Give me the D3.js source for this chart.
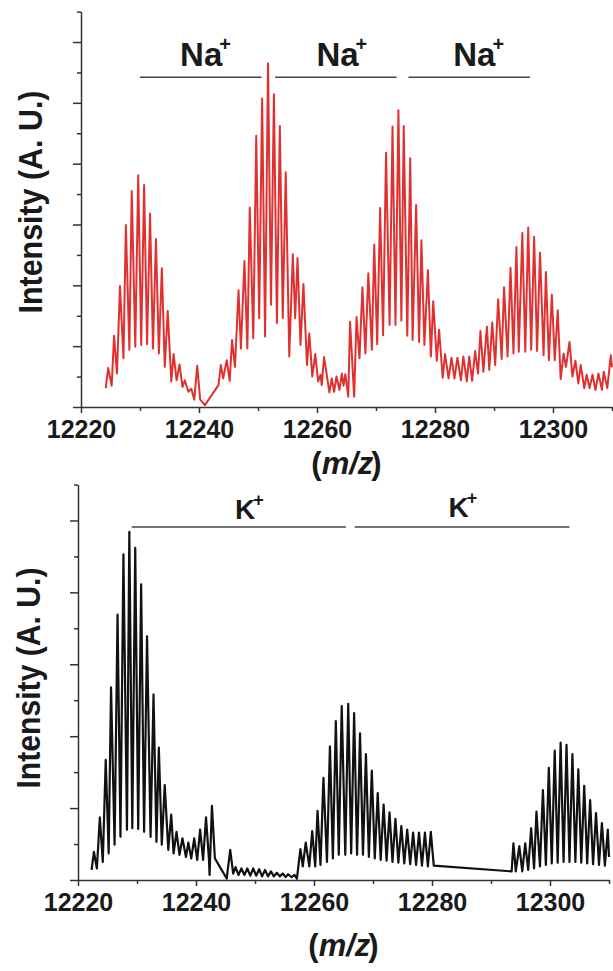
<!DOCTYPE html>
<html>
<head>
<meta charset="utf-8">
<script src="https://cdn.jsdelivr.net/npm/d3@7"></script>
<style>
  html, body { margin: 0; padding: 0; background: #fff; }
  svg { display: block; }
</style>
</head>
<body>
<svg id="chart" width="613" height="971"></svg>
<script>
// m/z axis
const mzDomain = [12220, 12310];

// Na+ adduct series (red): alternating isotopic peak / valley points
const naMz = [
  12224.2, 12224.6, 12225.2, 12225.6, 12226.1, 12226.6, 12227.2, 12227.6, 12228.2, 12228.6,
  12229.2, 12229.7, 12230.2, 12230.7, 12231.2, 12231.7, 12232.2, 12232.7, 12233.2, 12233.7,
  12234.2, 12234.7, 12235.3, 12235.7, 12236.2, 12236.7, 12237.2, 12237.6, 12238.2, 12238.7,
  12239.2, 12239.7, 12240.2, 12241.0, 12243.3, 12243.7, 12244.1, 12244.7, 12245.2, 12245.6,
  12246.1, 12246.7, 12247.1, 12247.7, 12248.2, 12248.6, 12249.2, 12249.7, 12250.2, 12250.7,
  12251.2, 12251.7, 12252.2, 12252.7, 12253.2, 12253.7, 12254.2, 12254.7, 12255.3, 12255.9,
  12256.3, 12256.7, 12257.2, 12257.7, 12258.3, 12258.7, 12259.2, 12259.7, 12260.2, 12260.6,
  12260.8, 12261.2, 12262.1, 12262.5, 12262.9, 12263.3, 12263.8, 12264.2, 12264.5, 12264.8,
  12265.3, 12265.6, 12266.3, 12266.7, 12267.2, 12267.7, 12268.2, 12268.7, 12269.3, 12269.7,
  12270.2, 12270.7, 12271.2, 12271.7, 12272.3, 12272.8, 12273.3, 12273.8, 12274.3, 12274.7,
  12275.3, 12275.8, 12276.2, 12276.8, 12277.3, 12277.7, 12278.2, 12278.8, 12279.3, 12279.7,
  12280.3, 12280.7, 12281.3, 12281.7, 12282.3, 12282.8, 12283.3, 12283.8, 12284.4, 12284.8,
  12285.4, 12285.8, 12286.3, 12286.8, 12287.3, 12287.7, 12288.2, 12288.8, 12289.2, 12289.7,
  12290.2, 12290.7, 12291.3, 12291.7, 12292.3, 12292.8, 12293.3, 12293.8, 12294.2, 12294.8,
  12295.3, 12295.8, 12296.3, 12296.8, 12297.3, 12297.8, 12298.4, 12298.8, 12299.3, 12299.8,
  12300.3, 12300.8, 12301.3, 12301.8, 12302.2, 12302.8, 12303.3, 12303.8, 12304.3, 12304.7,
  12305.3, 12305.7, 12306.2, 12306.7, 12307.2, 12307.7, 12308.3, 12308.6, 12309.2, 12309.8,
  12310.0
];
const naIntensity = [
  0.31, 0.64, 0.35, 1.17, 0.55, 1.99, 0.80, 2.99, 0.94, 3.55,
  0.99, 3.81, 1.02, 3.65, 1.03, 3.18, 0.96, 2.76, 0.88, 2.28,
  0.66, 1.58, 0.42, 0.87, 0.44, 0.70, 0.33, 0.44, 0.25, 0.30,
  0.12, 0.68, 0.12, 0.03, 0.36, 0.69, 0.47, 0.77, 0.43, 1.10,
  0.66, 1.92, 0.96, 2.40, 0.96, 3.28, 1.13, 4.46, 1.46, 5.07,
  1.16, 5.65, 1.68, 5.14, 1.38, 4.62, 1.46, 3.86, 0.83, 2.51,
  1.46, 2.45, 1.02, 2.02, 0.69, 1.21, 0.50, 0.87, 0.42, 0.53,
  0.36, 0.82, 0.24, 0.47, 0.25, 0.50, 0.28, 0.55, 0.35, 0.54,
  0.17, 1.40, 0.17, 1.48, 0.80, 1.97, 0.88, 2.20, 0.94, 2.67,
  1.03, 3.27, 1.18, 4.18, 1.35, 4.61, 1.35, 4.88, 1.42, 4.62,
  1.17, 4.09, 1.10, 3.32, 1.07, 2.74, 1.02, 2.25, 0.83, 1.74,
  0.76, 1.27, 0.48, 0.87, 0.47, 0.81, 0.47, 0.81, 0.44, 0.83,
  0.42, 0.83, 0.43, 0.92, 0.55, 1.25, 0.58, 1.32, 0.61, 1.39,
  0.69, 1.77, 0.79, 1.97, 0.83, 2.29, 0.88, 2.63, 0.91, 2.86,
  0.91, 2.95, 0.94, 2.80, 0.92, 2.54, 0.85, 2.22, 0.77, 1.85,
  0.77, 1.59, 0.46, 0.88, 0.66, 1.07, 0.50, 0.76, 0.39, 0.69,
  0.31, 0.53, 0.31, 0.53, 0.28, 0.55, 0.28, 0.58, 0.31, 0.85,
  0.65
];

// K+ adduct series (black)
const kMz = [
  12222.3, 12222.7, 12223.2, 12223.7, 12224.2, 12224.7, 12225.2, 12225.6, 12226.2, 12226.7,
  12227.2, 12227.7, 12228.3, 12228.7, 12229.2, 12229.7, 12230.2, 12230.7, 12231.2, 12231.7,
  12232.3, 12232.8, 12233.3, 12233.7, 12234.2, 12234.7, 12235.3, 12235.8, 12236.2, 12236.7,
  12237.2, 12237.7, 12238.3, 12238.7, 12239.2, 12239.7, 12240.2, 12240.7, 12241.2, 12241.7,
  12242.2, 12242.3, 12242.7, 12243.2, 12245.2, 12245.8, 12246.3, 12246.7, 12247.2, 12247.7,
  12248.2, 12248.7, 12249.2, 12249.7, 12250.2, 12250.7, 12251.2, 12251.7, 12252.2, 12252.7,
  12253.2, 12253.7, 12254.2, 12254.7, 12255.2, 12255.6, 12256.2, 12256.7, 12257.1, 12257.7,
  12258.1, 12258.6, 12259.2, 12259.7, 12260.2, 12260.6, 12261.1, 12261.6, 12262.2, 12262.7,
  12263.2, 12263.7, 12264.2, 12264.7, 12265.3, 12265.8, 12266.3, 12266.8, 12267.3, 12267.8,
  12268.3, 12268.8, 12269.3, 12269.8, 12270.3, 12270.8, 12271.3, 12271.8, 12272.3, 12272.8,
  12273.3, 12273.8, 12274.3, 12274.8, 12275.3, 12275.8, 12276.3, 12276.8, 12277.3, 12277.8,
  12278.3, 12278.8, 12279.3, 12279.8, 12280.3, 12293.5, 12293.8, 12294.2, 12294.8, 12295.3,
  12295.8, 12296.3, 12296.8, 12297.3, 12297.7, 12298.3, 12298.8, 12299.3, 12299.8, 12300.3,
  12300.8, 12301.3, 12301.8, 12302.3, 12302.8, 12303.3, 12303.8, 12304.3, 12304.8, 12305.3,
  12305.8, 12306.3, 12306.8, 12307.3, 12307.8, 12308.3, 12308.8, 12309.3, 12309.8, 12310.0
];
const kIntensity = [
  0.14, 0.39, 0.16, 0.87, 0.25, 1.67, 0.37, 2.68, 0.49, 3.69,
  0.60, 4.53, 0.70, 4.84, 0.72, 4.62, 0.71, 4.11, 0.67, 3.39,
  0.60, 2.58, 0.53, 1.84, 0.49, 1.32, 0.42, 0.91, 0.37, 0.67,
  0.35, 0.58, 0.32, 0.52, 0.30, 0.58, 0.28, 0.70, 0.28, 0.87,
  0.28, 0.07, 1.03, 0.30, 0.02, 0.42, 0.09, 0.18, 0.07, 0.16,
  0.07, 0.16, 0.06, 0.16, 0.06, 0.15, 0.05, 0.14, 0.05, 0.12,
  0.05, 0.10, 0.05, 0.09, 0.04, 0.08, 0.04, 0.07, 0.02, 0.43,
  0.19, 0.52, 0.19, 0.68, 0.19, 0.96, 0.21, 1.42, 0.25, 1.86,
  0.30, 2.21, 0.35, 2.42, 0.35, 2.45, 0.37, 2.32, 0.35, 2.04,
  0.35, 1.75, 0.32, 1.52, 0.30, 1.21, 0.28, 1.05, 0.27, 0.94,
  0.25, 0.85, 0.24, 0.75, 0.23, 0.70, 0.22, 0.66, 0.21, 0.66,
  0.20, 0.66, 0.19, 0.67, 0.20, 0.12, 0.51, 0.12, 0.47, 0.12,
  0.51, 0.14, 0.72, 0.16, 0.95, 0.19, 1.25, 0.21, 1.56, 0.23,
  1.80, 0.24, 1.91, 0.25, 1.88, 0.25, 1.75, 0.25, 1.54, 0.24,
  1.31, 0.23, 1.11, 0.22, 0.93, 0.21, 0.79, 0.20, 0.70, 0.32
];

// Adduct bracket spans (m/z) and where each label starts (m/z)
const naBands = [[12230.0, 12250.6], [12252.9, 12273.5], [12275.5, 12296.1]];
const naLabelMz = [12236.8, 12259.9, 12283.1];
const kBands = [[12229.1, 12265.4], [12266.9, 12303.3]];
const kLabelMz = [12246.6, 12282.8];

const FONT = '"Liberation Sans", Arial, Helvetica, sans-serif';
const TEXT = '#1a1a1a';
const AXIS = '#333';

const svg = d3.select('#chart');

function drawPanel(o) {
  const x = d3.scaleLinear().domain(mzDomain).range([o.left, o.right]);
  const y = d3.scaleLinear().domain([0, o.yMax]).range([o.bottom, o.top]);

  // Y axis: unlabelled, major ticks at integers, minor at halves
  const gy = svg.append('g')
    .attr('transform', `translate(${o.left},0)`)
    .call(d3.axisLeft(y)
      .tickValues(d3.range(0, o.yMax + 1e-9, 0.5))
      .tickFormat('')
      .tickSizeOuter(0));
  gy.selectAll('.tick line')
    .attr('x2', d => Number.isInteger(d) ? -8 : -4)
    .attr('stroke', AXIS).attr('stroke-width', 1.5);
  gy.select('.domain').attr('stroke', AXIS).attr('stroke-width', 1.5);

  // X axis: labelled every 20, minor every 10
  const gx = svg.append('g')
    .attr('transform', `translate(0,${o.bottom})`)
    .call(d3.axisBottom(x)
      .tickValues(d3.range(mzDomain[0], mzDomain[1] + 1, 10))
      .tickFormat(d => (d % 20 === 0 ? String(d) : ''))
      .tickSizeOuter(0));
  gx.selectAll('.tick line')
    .attr('y2', d => d % 20 === 0 ? 6 : 4)
    .attr('stroke', AXIS).attr('stroke-width', 1.5);
  gx.select('.domain').attr('stroke', AXIS).attr('stroke-width', 1.5);
  gx.selectAll('.tick text')
    .attr('y', 31).attr('dy', 0)
    .attr('fill', TEXT)
    .style('font-family', FONT).style('font-weight', 'bold').style('font-size', '25px');

  // Spectrum trace
  const pts = o.mz.map((m, i) => [m, o.intensity[i]]);
  svg.append('path')
    .datum(pts)
    .attr('fill', 'none')
    .attr('stroke', o.color)
    .attr('stroke-width', o.lineWidth)
    .attr('stroke-linejoin', 'round')
    .attr('d', d3.line().x(d => x(d[0])).y(d => y(d[1])));

  // Adduct brackets and labels
  const bandY = y(o.bandLevel);
  svg.append('g').selectAll('line').data(o.bands).join('line')
    .attr('x1', d => x(d[0])).attr('x2', d => x(d[1]))
    .attr('y1', bandY).attr('y2', bandY)
    .attr('stroke', '#444').attr('stroke-width', 1.4);

  const lab = svg.append('g').selectAll('text').data(o.labelMz).join('text')
    .attr('x', d => x(d))
    .attr('y', (d, i) => bandY - o.labelGap[i])
    .attr('fill', TEXT)
    .style('font-family', FONT).style('font-weight', 'bold');
  lab.append('tspan').text(o.ion).style('font-size', o.ionSize + 'px');
  lab.append('tspan').text('+')
    .attr('dx', o.plusDx).attr('dy', o.plusDy)
    .style('font-size', o.plusSize + 'px');

  // Axis titles
  svg.append('text')
    .attr('transform', `translate(${o.yTitleX},${o.yTitleY}) rotate(-90)`)
    .attr('text-anchor', 'middle')
    .attr('textLength', o.yTitleLen)
    .attr('lengthAdjust', 'spacingAndGlyphs')
    .attr('fill', TEXT)
    .style('font-family', FONT).style('font-weight', 'bold').style('font-size', '33px')
    .text('Intensity (A. U.)');

  const xt = svg.append('text')
    .attr('x', (o.left + o.right) / 2)
    .attr('y', o.xTitleY)
    .attr('text-anchor', 'middle')
    .attr('fill', TEXT)
    .style('font-family', FONT).style('font-weight', 'bold').style('font-size', '31px');
  xt.append('tspan').text('(');
  xt.append('tspan').text('m/z').style('font-style', 'italic');
  xt.append('tspan').text(')').attr('dx', -2);
}

drawPanel({
  left: 81, right: 612, top: 11.6, bottom: 407, yMax: 6.5,
  mz: naMz, intensity: naIntensity, color: '#e03131', lineWidth: 2,
  bands: naBands, labelMz: naLabelMz, bandLevel: 5.42, labelGap: [11.6, 11.6, 11.6],
  ion: 'Na', ionSize: 33, plusSize: 20, plusDx: -3, plusDy: -15,
  yTitleX: 42, yTitleY: 202, yTitleLen: 223, xTitleY: 474
});

drawPanel({
  left: 78, right: 609, top: 484.5, bottom: 880, yMax: 5.5,
  mz: kMz, intensity: kIntensity, color: '#111', lineWidth: 2.2,
  bands: kBands, labelMz: kLabelMz, bandLevel: 4.91, labelGap: [7.5, 10],
  ion: 'K', ionSize: 28, plusSize: 18, plusDx: -2, plusDy: -13,
  yTitleX: 40, yTitleY: 678, yTitleLen: 221, xTitleY: 956
});
</script>
</body>
</html>
